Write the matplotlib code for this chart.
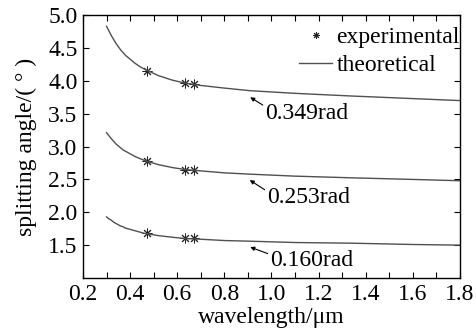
import matplotlib
matplotlib.use("Agg")
import matplotlib.pyplot as plt
from matplotlib.ticker import MultipleLocator

plt.rcParams['font.family'] = ['Liberation Serif', 'DejaVu Serif']
plt.rcParams['mathtext.fontset'] = 'stix'

# theoretical curves
wl_theory = [0.30, 0.31, 0.32, 0.33, 0.34, 0.35, 0.36, 0.37, 0.38, 0.40,
             0.42, 0.44, 0.46, 0.478, 0.52, 0.58, 0.635, 0.70, 0.80, 0.91,
             1.10, 1.336, 1.60, 1.80]
theory_0349 = [4.83, 4.76, 4.69, 4.63, 4.57, 4.52, 4.47, 4.43, 4.39, 4.33,
               4.27, 4.22, 4.18, 4.15, 4.08, 4.01, 3.965, 3.93, 3.89, 3.85,
               3.81, 3.77, 3.73, 3.70]
theory_0253 = [3.21, 3.165, 3.12, 3.08, 3.04, 3.01, 2.98, 2.95, 2.93, 2.89,
               2.85, 2.82, 2.79, 2.77, 2.725, 2.68, 2.65, 2.63, 2.60, 2.58,
               2.55, 2.525, 2.50, 2.48]
theory_0160 = [1.93, 1.90, 1.88, 1.85, 1.83, 1.81, 1.79, 1.78, 1.76, 1.74,
               1.72, 1.70, 1.68, 1.67, 1.645, 1.62, 1.60, 1.59, 1.57, 1.56,
               1.54, 1.53, 1.51, 1.50]

# experimental points
wl_exp = [0.473, 0.633, 0.670]
exp_0349 = [4.15, 3.965, 3.955]
exp_0253 = [2.78, 2.65, 2.645]
exp_0160 = [1.69, 1.61, 1.605]

labels = ['0.349rad', '0.253rad', '0.160rad']
x_ticks = [0.2, 0.4, 0.6, 0.8, 1.0, 1.2, 1.4, 1.6, 1.8]
y_ticks = [1.5, 2.0, 2.5, 3.0, 3.5, 4.0, 4.5, 5.0]

fig = plt.figure(figsize=(4.77, 3.29), dpi=100)
ax = fig.add_axes([0.174, 0.155, 0.790, 0.799])

lc = '#505050'
theories = [theory_0349, theory_0253, theory_0160]
exps = [exp_0349, exp_0253, exp_0160]
for i, (th, ex) in enumerate(zip(theories, exps)):
    ax.plot(wl_exp, ex, linestyle='none', marker=(8, 2, 0), markersize=7,
            color='#222222', markeredgewidth=0.7,
            label='experimental' if i == 0 else None)
    ax.plot(wl_theory, th, color=lc, lw=1.0,
            label='theoretical' if i == 0 else None)

# annotations
ann = [((0.91, 3.75), (0.975, 3.51)),
       ((0.908, 2.49), (0.983, 2.22)),
       ((0.91, 1.47), (0.996, 1.26))]
for lab, (head, txt) in zip(labels, ann):
    ax.annotate(lab, xy=head, xytext=txt, fontsize=17, va='center', ha='left',
                arrowprops=dict(arrowstyle='-|>', color='black', lw=0.8,
                                mutation_scale=6, shrinkA=0, shrinkB=0,
                                relpos=(0.0, 0.8)))

ax.set_xlim(0.2, 1.8)
ax.set_ylim(1.0, 5.0)
ax.set_xticks(x_ticks)
ax.set_xticklabels([f'{v:.1f}' for v in x_ticks])
ax.xaxis.set_minor_locator(MultipleLocator(0.1))
ax.set_yticks(y_ticks)
ax.set_yticklabels([f'{v:.1f}' for v in y_ticks])
ax.tick_params(which='both', direction='in', top=True, right=True,
               labelsize=17, length=4, width=0.8, pad=4)
for s in ax.spines.values():
    s.set_linewidth(1.0)

ax.set_xlabel('wavelength/μm', fontsize=17, labelpad=2)
ax.set_ylabel('splitting angle/( ° )', fontsize=17, labelpad=8)

leg = ax.legend(loc='upper right', bbox_to_anchor=(1.0, 0.955),
                frameon=False, fontsize=17, markerscale=0.7,
                handlelength=1.4, handletextpad=0.17, borderaxespad=0.0,
                labelspacing=0.25, borderpad=0.0)

fig.savefig('out.png', dpi=100)
